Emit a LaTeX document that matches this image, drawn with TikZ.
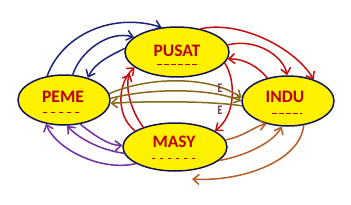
\documentclass[tikz,border=0pt]{standalone}
\usepackage{fontspec}
\setmainfont{Carlito}
\usetikzlibrary{shapes.geometric,arrows.meta}
\definecolor{navyc}{RGB}{30,35,120}
\definecolor{redc}{RGB}{195,15,15}
\definecolor{txtc}{RGB}{192,0,0}
\definecolor{purc}{RGB}{112,48,160}
\definecolor{brnc}{RGB}{178,95,40}
\definecolor{olvc}{RGB}{135,105,25}
\definecolor{edgec}{RGB}{20,20,80}
\definecolor{marc}{RGB}{110,50,70}
\tikzset{
  blob/.style={ellipse,draw=edgec,line width=1.5pt,fill=yellow,inner sep=0pt},
  lbl/.style={text=txtc,font=\fontsize{17.5}{17.5}\selectfont\bfseries},
  frag/.style={draw=txtc,line width=0.9pt,dash pattern=on 5pt off 2pt},
  conn/.style={line width=1.5pt,-{Straight Barb[length=6pt,width=10pt,line width=1.5pt]}},
  emark/.style={text=marc,font=\fontsize{13}{13}\selectfont\bfseries,xscale=0.75,inner sep=0pt}
}
\begin{document}
\begin{tikzpicture}[x=1pt,y=-1pt]
\path[use as bounding box,fill=white] (0,0) rectangle (351,204);
% ellipses
\node[blob,minimum width=104pt,minimum height=50pt] (pusat) at (177,52) {};
\node[blob,minimum width=92pt,minimum height=50pt] (peme) at (64,100) {};
\node[blob,minimum width=92pt,minimum height=50pt] (indu) at (288,101) {};
\node[blob,minimum width=104pt,minimum height=48pt] (masy) at (175,147) {};
% labels
\node[lbl] (tpusat) at (177,50.5) {PUSAT};
\node[lbl] (tpeme) at (63,97) {PEME};
\node[lbl] (tindu) at (285,97) {INDU};
\node[lbl] (tmasy) at (174,142) {MASY};
% cut second lines
\coordinate (f1a) at (157,64); \coordinate (f1b) at (197,64);
\coordinate (f2a) at (43,112.5); \coordinate (f2b) at (82,112.5);
\coordinate (f3a) at (272,113.5); \coordinate (f3b) at (302,113.5);
\coordinate (f4a) at (152,158.5); \coordinate (f4b) at (197,158.5);
\draw[frag] (f1a) -- (f1b);
\draw[frag,dash pattern=on 4pt off 4pt] (f2a) -- (f2b);
\draw[frag] (f3a) -- (f3b);
\draw[frag,dash pattern=on 3pt off 5pt] (f4a) -- (f4b);
% blue
\draw[conn,navyc] (peme.125) .. controls (62,35) and (112,12) .. (pusat.122);
\draw[conn,navyc] (peme.71) .. controls (80,52) and (108,30) .. (pusat.161);
\draw[conn,navyc] (pusat.176) .. controls (112,55) and (95,62) .. (peme.43);
% red pusat-indu
\draw[conn,redc] (pusat.45) .. controls (240,20) and (295,48) .. (indu.40);
\draw[conn,redc] (pusat.8) .. controls (255,38) and (283,55) .. (indu.92);
\draw[conn,redc] (indu.132) .. controls (258,66) and (242,58) .. (pusat.-8);
% red masy-pusat
\draw[conn,redc] (masy.158) .. controls (115,115) and (118,82) .. (pusat.200);
\draw[conn,redc,shorten >=8pt] (masy.148) .. controls (130,110) and (125,85) .. (pusat.198);
\draw[conn,redc] (pusat.-13) .. controls (236,80) and (236,115) .. (masy.22);
% olive
\draw[conn,olvc] (peme.8) .. controls (150,76) and (210,76) .. (indu.176);
\draw[conn,olvc] (peme.2) .. controls (150,88) and (210,88) .. (indu.180);
\draw[conn,olvc] (indu.186) .. controls (210,101) and (150,101) .. (peme.-4);
% E marks
\node[emark] (e1) at (220,88) {E};
\node[emark] (e2) at (220,110) {E};
% purple
\draw[conn,purc] (masy.203) .. controls (100,172) and (55,148) .. (peme.233);
\draw[conn,purc] (masy.187) .. controls (100,150) and (78,138) .. (peme.277);
\draw[conn,purc] (peme.304) .. controls (95,136) and (110,146) .. (masy.178);
% brown
\coordinate (brend) at (192,179);
\draw[conn,brnc] (masy.8) .. controls (245,136) and (255,126) .. (indu.227);
\draw[conn,brnc] (masy.-17) .. controls (250,155) and (275,140) .. (indu.256);
\draw[conn,brnc] (indu.303) .. controls (300,162) and (240,182) .. (brend);
\end{tikzpicture}
\end{document}
